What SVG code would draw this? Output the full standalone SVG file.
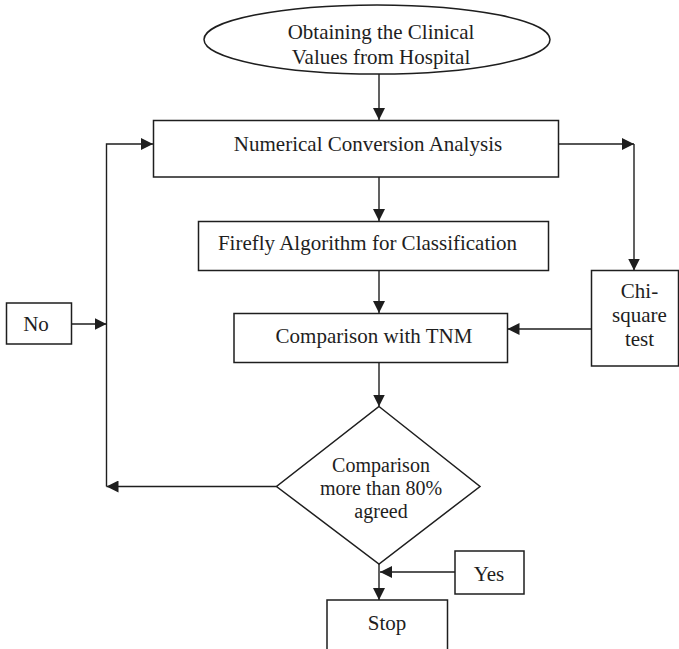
<svg xmlns="http://www.w3.org/2000/svg" width="679" height="649" viewBox="0 0 679 649">
  <style>
    .shape { fill: #ffffff; stroke: #1e1e1e; stroke-width: 1.5; }
    .link { fill: none; stroke: #1e1e1e; stroke-width: 1.4; }
    .label { font-family: "Liberation Serif", "Times New Roman", serif; font-size: 21px; fill: #1e1e1e; text-anchor: middle; }
    .small { font-size: 20px; }
  </style>
  <defs>
    <marker id="arrow" viewBox="0 0 12 12" refX="12" refY="6" markerWidth="12" markerHeight="12" markerUnits="userSpaceOnUse" orient="auto">
      <path d="M0,0 L12,6 L0,12 Z" fill="#1e1e1e"/>
    </marker>
  </defs>

  <rect width="679" height="649" fill="#ffffff"/>

  <!-- connectors -->
  <g id="connectors">
    <line class="link" x1="379" y1="74" x2="379" y2="120" marker-end="url(#arrow)"/>
    <line class="link" x1="379" y1="177" x2="379" y2="221" marker-end="url(#arrow)"/>
    <line class="link" x1="379" y1="271" x2="379" y2="313" marker-end="url(#arrow)"/>
    <line class="link" x1="379" y1="363" x2="379" y2="406.5" marker-end="url(#arrow)"/>
    <line class="link" x1="379" y1="564" x2="379" y2="600" marker-end="url(#arrow)"/>
    <!-- "No" loop back to the conversion step -->
    <line class="link" x1="276.5" y1="486.5" x2="106.5" y2="486.5" marker-end="url(#arrow)"/>
    <polyline class="link" points="106.5,486.5 106.5,144 153,144" marker-end="url(#arrow)"/>
    <line class="link" x1="72" y1="324" x2="106.5" y2="324" marker-end="url(#arrow)"/>
    <!-- branch to the chi-square test -->
    <line class="link" x1="558.5" y1="144" x2="634" y2="144" marker-end="url(#arrow)"/>
    <line class="link" x1="634" y1="144" x2="634" y2="270.5" marker-end="url(#arrow)"/>
    <line class="link" x1="591.5" y1="329" x2="507.5" y2="329" marker-end="url(#arrow)"/>
    <!-- "Yes" into the stop path -->
    <line class="link" x1="455" y1="572" x2="380" y2="572" marker-end="url(#arrow)"/>
  </g>

  <g id="start">
    <ellipse class="shape" cx="377" cy="39.5" rx="173" ry="34.5"/>
    <text class="label" x="381" y="39">Obtaining the Clinical</text>
    <text class="label" x="381" y="64">Values from Hospital</text>
  </g>

  <g id="conversion">
    <rect class="shape" x="153.5" y="120.5" width="405" height="56.5"/>
    <text class="label" x="368" y="151">Numerical Conversion Analysis</text>
  </g>

  <g id="firefly">
    <rect class="shape" x="198.5" y="221.5" width="350" height="49"/>
    <text class="label" x="367.5" y="250">Firefly Algorithm for Classification</text>
  </g>

  <g id="tnm">
    <rect class="shape" x="234" y="313.5" width="273.5" height="49"/>
    <text class="label" x="374" y="343">Comparison with TNM</text>
  </g>

  <g id="chisquare">
    <rect class="shape" x="591.5" y="270.5" width="87" height="95.5"/>
    <text class="label" x="639.5" y="298">Chi-</text>
    <text class="label" x="639.5" y="322">square</text>
    <text class="label" x="639.5" y="346">test</text>
  </g>

  <g id="decision">
    <polygon class="shape" points="379,406.5 480,486.5 379,564 276.5,486.5"/>
    <text class="label small" x="381" y="471.5">Comparison</text>
    <text class="label small" x="381" y="494.5">more than 80%</text>
    <text class="label small" x="381" y="518">agreed</text>
  </g>

  <g id="no">
    <rect class="shape" x="6.5" y="303" width="65" height="41"/>
    <text class="label" x="36" y="331">No</text>
  </g>

  <g id="yes">
    <rect class="shape" x="455" y="551" width="69" height="43"/>
    <text class="label" x="489" y="580.5">Yes</text>
  </g>

  <g id="stop">
    <rect class="shape" x="327" y="600" width="120.5" height="70"/>
    <text class="label" x="387" y="630">Stop</text>
  </g>
</svg>
